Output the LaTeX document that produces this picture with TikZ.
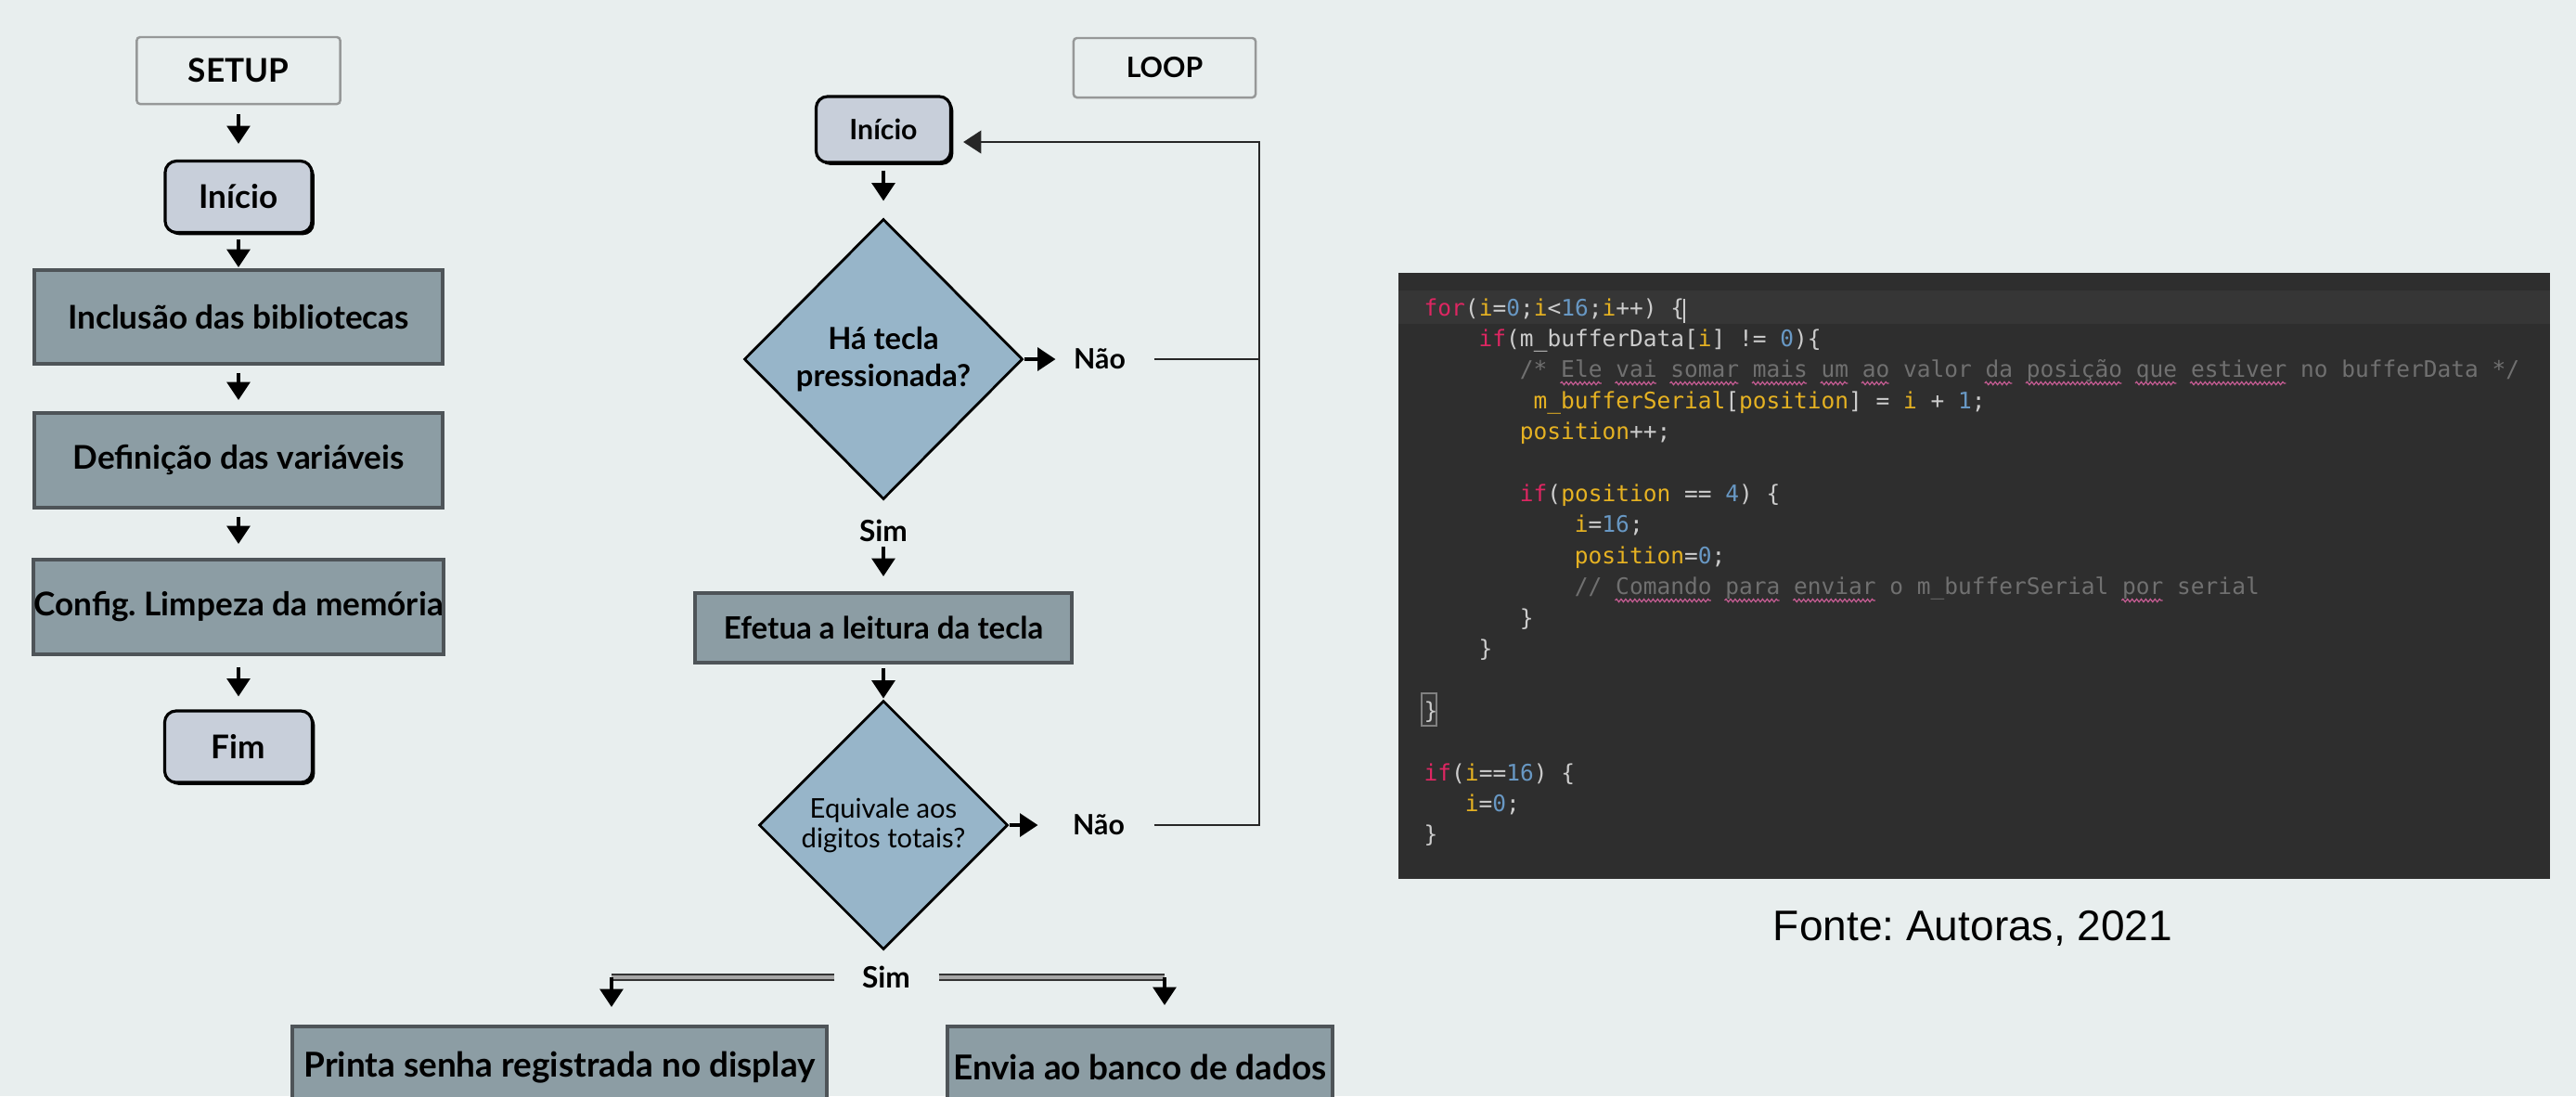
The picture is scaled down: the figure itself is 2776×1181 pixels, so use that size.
\documentclass[tikz,border=0pt]{standalone}
\usepackage{fontspec}
\setmainfont{Lato}
\newfontfamily\codefont{DejaVu Sans Mono}
\newfontfamily\arialfont{Liberation Sans}
\usepackage{xcolor}
\usetikzlibrary{shapes,arrows,positioning,calc,shadows,decorations.pathmorphing,arrows.meta}

\definecolor{bgc}{RGB}{232,238,238}
\definecolor{procc}{RGB}{140,157,164}
\definecolor{procline}{RGB}{78,84,88}
\definecolor{termc}{RGB}{200,207,218}
\definecolor{decc}{RGB}{151,181,201}
\definecolor{titleline}{RGB}{150,152,152}
\definecolor{codebg}{RGB}{46,46,46}
\definecolor{codeband}{RGB}{54,54,54}
\definecolor{codetxt}{RGB}{204,204,204}
\definecolor{codekw}{RGB}{222,38,98}
\definecolor{codevar}{RGB}{230,178,34}
\definecolor{codenum}{RGB}{104,152,196}
\definecolor{codecom}{RGB}{112,112,112}
\definecolor{codewave}{RGB}{196,92,146}

\newcommand{\ckw}[1]{\textcolor{codekw}{#1}}
\newcommand{\cvar}[1]{\textcolor{codevar}{#1}}
\newcommand{\cnum}[1]{\textcolor{codenum}{#1}}
\newcommand{\ccom}[1]{\textcolor{codecom}{#1}}

\begin{document}
\frenchspacing
\begin{tikzpicture}[x=0.01cm, y=-0.01cm,
    titlebox/.style={draw=titleline, line width=0.7pt, rounded corners=1pt, inner sep=0pt},
    termbox/.style={draw=black, line width=0.9pt, fill=termc, rounded corners=3.5pt, inner sep=0pt,
        drop shadow={shadow xshift=0.8pt, shadow yshift=-0.8pt, opacity=1, fill=black}},
    procbox/.style={draw=procline, line width=1.1pt, fill=procc, inner sep=0pt},
    decis/.style={diamond, aspect=1, draw=black, line width=0.8pt, fill=decc, inner sep=0pt, align=center},
    lbl/.style={inner sep=0pt},
    arr/.style={-{Triangle[width=7pt,length=5.5pt]}, line width=1.1pt},
    retline/.style={line width=0.75pt, draw=black!85},
    bar/.style={draw=black!80, line width=0.4pt, double=gray!70, double distance=1.3pt},
    codeline/.style={anchor=base west, inner sep=0pt, text=codetxt,
        font=\codefont\fontsize{6.97}{8}\selectfont},
    wavy/.style={decorate, decoration={snake, amplitude=0.45pt, segment length=1.4pt},
        draw=codewave, line width=0.35pt},
    bigfont/.style={font=\bfseries\fontsize{10}{12}\selectfont},
    loopfont/.style={font=\bfseries\fontsize{8.6}{10}\selectfont}]

    \useasboundingbox (0,0) rectangle (2776,1181);
    \fill[bgc] (0,0) rectangle (2776,1181);
    \clip (0,0) rectangle (2776,1181);

    % SETUP
    \node[titlebox, bigfont, minimum width=2.19cm, minimum height=0.72cm] (setup) at (257,76) {SETUP};
    \node[termbox, bigfont, minimum width=1.58cm, minimum height=0.77cm] (ini1) at (257,212) {Início};
    \node[procbox, bigfont, minimum width=4.39cm, minimum height=1.01cm] (incl) at (257,341.5) {Inclusão das bibliotecas};
    \node[procbox, bigfont, minimum width=4.39cm, minimum height=1.02cm] (defi) at (257,496) {Definição das variáveis};
    \node[procbox, bigfont, minimum width=4.39cm, minimum height=1.02cm] (conf) at (257,654) {Config. Limpeza da memória};
    \node[termbox, bigfont, minimum width=1.59cm, minimum height=0.77cm] (fim) at (257,804.5) {Fim};

    \draw[arr, shorten <=0.1cm, shorten >=0.17cm] (setup) -- (ini1);
    \draw[arr, shorten <=0.06cm, shorten >=0.01cm] (ini1) -- (incl);
    \draw[arr, shorten <=0.08cm, shorten >=0.12cm] (incl) -- (defi);
    \draw[arr, shorten <=0.08cm, shorten >=0.15cm] (defi) -- (conf);
    \draw[arr, shorten <=0.12cm, shorten >=0.14cm] (conf) -- (fim);

    % LOOP
    \node[titlebox, loopfont, minimum width=1.96cm, minimum height=0.64cm] (loop) at (1255,73) {LOOP};
    \node[termbox, loopfont, minimum width=1.45cm, minimum height=0.71cm] (ini2) at (952,139.5) {Início};
    \node[decis, minimum width=3cm, minimum height=3.02cm,
        font=\bfseries\fontsize{9.3}{11.4}\selectfont] (d1) at (952,387) {Há tecla\\pressionada?};
    \node[lbl, loopfont] (nao1) at (1185,387) {Não};
    \node[lbl, font=\bfseries\fontsize{9}{11}\selectfont] (sim1) at (952,572) {Sim};
    \node[procbox, minimum width=4.06cm, minimum height=0.75cm,
        font=\bfseries\fontsize{9.4}{11}\selectfont] (efet) at (952,676.5) {Efetua a leitura da tecla};
    \node[decis, minimum width=2.68cm, minimum height=2.68cm,
        font=\fontsize{8.3}{9.1}\selectfont] (d2) at (952,889) {Equivale aos\\digitos totais?};
    \node[lbl, loopfont] (nao2) at (1184,889) {Não};
    \node[lbl, font=\bfseries\fontsize{9}{11}\selectfont] (sim2) at (955,1053) {Sim};
    \node[procbox, font=\bfseries\fontsize{10.5}{12}\selectfont, minimum width=5.76cm, minimum height=0.88cm] (prin) at (603,1150) {Printa senha registrada no display};
    \node[procbox, font=\bfseries\fontsize{10.5}{12}\selectfont, minimum width=4.15cm, minimum height=0.88cm] (envi) at (1228.5,1150) {Envia ao banco de dados};

    \coordinate (ret) at (1357,153);
    \coordinate (cl) at (659,1053);
    \coordinate (cr) at (1255,1053);

    \draw[arr, shorten <=0.07cm, shorten >=0.18cm] (ini2) -- (d1);
    \draw[arr, shorten >=0.19cm] (d1) -- (nao1);
    \draw[arr, shorten <=0.045cm, shorten >=0.16cm] (sim1) -- (efet);
    \draw[arr, shorten <=0.04cm, shorten >=0.01cm] (efet) -- (d2);
    \draw[arr, shorten >=0.37cm] (d2) -- (nao2);

    % volta para o inicio
    \draw[retline, shorten <=0.3cm] (nao1) -- (nao1 -| ret);
    \draw[retline, -{Triangle[width=7pt,length=5.5pt]}, shorten <=0.31cm, shorten >=0.12cm]
        (nao2) -| (ret) -- (ret -| ini2.east);

    \draw[bar, shorten <=0.29cm] (sim2) -- (cl);
    \draw[bar, shorten <=0.3cm] (sim2) -- (cr);
    \draw[arr, shorten >=0.19cm] (cl) -- (cl |- prin.north);
    \draw[arr, shorten >=0.21cm] (cr) -- (cr |- envi.north);

    % codigo
    \fill[codebg] (1507,294) rectangle (2748,947);
    \fill[codeband] (1507,313) rectangle (2748,349);
    \node[codeline] (c0) at (1534,340) {\ckw{for}(\cvar{i}=\cnum{0};\cvar{i}<\cnum{16};\cvar{i}++) \{};
    \draw[codetxt, line width=0.5pt] (1815,322) -- (1815,348);
    \node[codeline] (c1) at (1593,373.4) {\ckw{if}(m\_bufferData[\cvar{i}] != \cnum{0})\{};
    \node[codeline] (c2) at (1637.25,406.8) {\ccom{/* Ele vai somar mais um ao valor da posição que estiver no bufferData */}};
    \node[codeline] (c3) at (1652,440.2) {\cvar{m\_bufferSerial}[\cvar{position}] = \cvar{i} + \cnum{1};};
    \node[codeline] (c4) at (1637.25,473.6) {\cvar{position}++;};
    \node[codeline] (c6) at (1637.25,540.4) {\ckw{if}(\cvar{position} == \cnum{4}) \{};
    \node[codeline] (c7) at (1696.25,573.8) {\cvar{i}=\cnum{16};};
    \node[codeline] (c8) at (1696.25,607.2) {\cvar{position}=\cnum{0};};
    \node[codeline] (c9) at (1696.25,640.6) {\ccom{// Comando para enviar o m\_bufferSerial por serial}};
    \node[codeline] (c10) at (1637.25,674) {\}};
    \node[codeline] (c11) at (1593,707.4) {\}};
    \draw[gray, line width=0.5pt, fill=codeband] (1532,747) rectangle (1548,782);
    \node[codeline] (c13) at (1534,774.2) {\}};
    \node[codeline] (c15) at (1534,841) {\ckw{if}(\cvar{i}==\cnum{16}) \{};
    \node[codeline] (c16) at (1578.25,874.4) {\cvar{i}=\cnum{0};};
    \node[codeline] (c17) at (1534,907.8) {\}};

    \foreach \a/\b in {10/13,14/17,18/23,24/28,29/31,32/34,41/43,44/51,52/55,56/63}
        \draw[wavy] (1534+\a*14.75,413) -- (1534+\b*14.75,413);
    \foreach \a/\b in {14/21,22/26,27/33,51/54}
        \draw[wavy] (1534+\a*14.75,647) -- (1534+\b*14.75,647);

    \node[font=\arialfont\fontsize{13.1}{15}\selectfont] (fonte) at (2126,1000) {Fonte: Autoras, 2021};
\end{tikzpicture}
\end{document}
